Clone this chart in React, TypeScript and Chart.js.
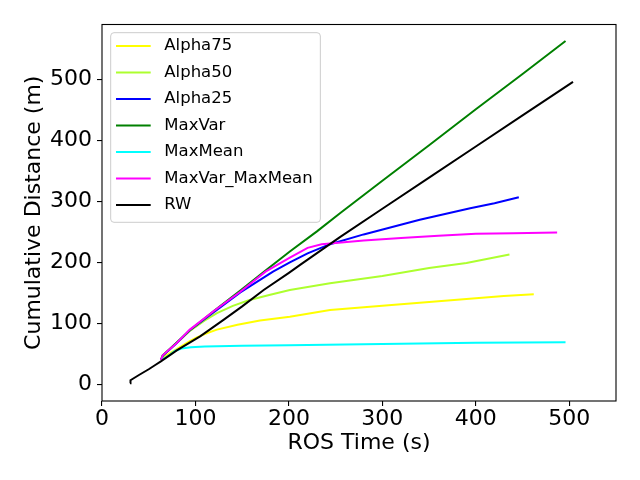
import React, { useEffect, useRef } from "react";
import { Chart, registerables } from "chart.js";

Chart.register(...registerables);

const seriesNames = ["Alpha75", "Alpha50", "Alpha25", "MaxVar", "MaxMean", "MaxVar_MaxMean", "RW"];
const seriesColors = ["#ffff00", "#adff2f", "#0000ff", "#008000", "#00ffff", "#ff00ff", "#000000"];

const xTicks = [0, 100, 200, 300, 400, 500];
const yTicks = [0, 100, 200, 300, 400, 500];

const alpha75T = [63, 66, 80, 94, 101, 112, 123, 145, 169, 201, 244, 300, 340, 390, 430, 462];
const alpha75D = [40, 45, 58, 71, 77, 84, 90, 98, 105, 111, 122, 129, 134, 140, 145, 148];

const alpha50T = [63, 65, 80, 94, 110, 123, 140, 157, 180, 201, 244, 300, 350, 390, 436];
const alpha50D = [40, 47, 68, 88, 105, 117, 129, 138, 147, 155, 166, 178, 191, 199, 213];

const alpha25T = [63, 65, 80, 94, 120, 148, 183, 201, 220, 244, 280, 340, 394, 420, 446];
const alpha25D = [40, 47, 68, 89, 119, 151, 185, 200, 215, 230, 246, 270, 289, 297, 307];

const maxVarT = [63, 65, 80, 94, 120, 148, 175, 201, 230, 255, 300, 350, 400, 450, 496];
const maxVarD = [40, 48, 69, 89, 121, 154, 187, 218, 251, 281, 334, 392, 451, 509, 563];

const maxMeanT = [63, 68, 73, 78, 85, 95, 110, 150, 200, 260, 320, 400, 496];
const maxMeanD = [40, 44, 49, 55, 59, 61, 62.5, 63.5, 64.5, 65.5, 67, 68.5, 69.4];

const maxVarMaxMeanT = [63, 65, 80, 94, 120, 148, 175, 201, 220, 235, 250, 280, 320, 360, 400, 440, 487];
const maxVarMaxMeanD = [40, 48, 68, 90, 121, 152, 185, 208, 224, 230, 232, 236, 240, 244, 247, 248, 249];

const rwT = [30, 30.5, 40, 50, 57, 63, 80, 105, 130, 150, 173, 200, 212, 255, 300, 350, 400, 450, 504];
const rwD = [2, 7, 16, 25, 32, 38, 56, 79, 106, 128, 155, 183, 196, 242, 288, 339, 390, 441, 496];

const seriesT = [alpha75T, alpha50T, alpha25T, maxVarT, maxMeanT, maxVarMaxMeanT, rwT];
const seriesD = [alpha75D, alpha50D, alpha25D, maxVarD, maxMeanD, maxVarMaxMeanD, rwD];

const FONT = '"DejaVu Sans", "Liberation Sans", sans-serif';

const framePlugin = {
  id: "mplFrame",
  afterDatasetsDraw(chart: any) {
    const { ctx, chartArea: a } = chart;
    ctx.save();
    ctx.strokeStyle = "#000";
    ctx.lineWidth = 1.1;
    ctx.strokeRect(a.left, a.top, a.right - a.left, a.bottom - a.top);
    ctx.restore();
  },
};

const legendPlugin = {
  id: "mplLegend",
  afterDraw(chart: any) {
    const { ctx, chartArea: a } = chart;
    const fs = 16.5;
    ctx.save();
    ctx.font = `${fs}px ${FONT}`;
    const left = a.left + 8.7;
    const top = a.top + 8.2;
    const rowH = 26.5;
    const textOff = 53.6;
    const maxW = Math.max(...seriesNames.map((n) => ctx.measureText(n).width));
    const w = textOff + maxW + 7.7;
    const h = 13.3 + rowH * (seriesNames.length - 1) + 17.3;
    ctx.beginPath();
    if (ctx.roundRect) ctx.roundRect(left, top, w, h, 3.3);
    else ctx.rect(left, top, w, h);
    ctx.fillStyle = "rgba(255,255,255,0.8)";
    ctx.fill();
    ctx.strokeStyle = "#cccccc";
    ctx.lineWidth = 1;
    ctx.stroke();
    seriesNames.forEach((name, i) => {
      const y = top + 13.3 + i * rowH;
      ctx.beginPath();
      ctx.moveTo(left + 5.3, y);
      ctx.lineTo(left + 40, y);
      ctx.strokeStyle = seriesColors[i];
      ctx.lineWidth = 2;
      ctx.stroke();
      ctx.fillStyle = "#000";
      ctx.textBaseline = "middle";
      ctx.textAlign = "left";
      ctx.fillText(name, left + textOff, y);
    });
    ctx.restore();
  },
};

export default function App() {
  const ref = useRef<HTMLCanvasElement>(null);
  useEffect(() => {
    const datasets = seriesNames.map((name, i) => ({
      label: name,
      data: seriesT[i].map((t, j) => ({ x: t, y: seriesD[i][j] })),
      borderColor: seriesColors[i],
      backgroundColor: seriesColors[i],
      borderWidth: 2,
      pointRadius: 0,
      pointHoverRadius: 0,
      tension: 0,
      fill: false,
      order: seriesNames.length - 1 - i,
    }));
    const chart = new Chart(ref.current as HTMLCanvasElement, {
      type: "line",
      data: { datasets },
      options: {
        animation: false,
        responsive: false,
        events: [],
        layout: { padding: { left: 0, top: 24.5, right: 24, bottom: 0 } },
        plugins: { legend: { display: false }, tooltip: { enabled: false } },
        scales: {
          x: {
            type: "linear",
            min: 0,
            max: 550,
            afterBuildTicks: (axis: any) => {
              axis.ticks = xTicks.map((v) => ({ value: v }));
            },
            afterFit: (scale: any) => {
              scale.height = 79;
            },
            grid: { drawOnChartArea: false, drawTicks: true, tickLength: 5, color: "#000", lineWidth: 1.1 },
            border: { display: false },
            ticks: {
              color: "#000",
              padding: 2,
              maxRotation: 0,
              autoSkip: false,
              font: { family: FONT, size: 22, lineHeight: 1 },
            },
            title: {
              display: true,
              text: "ROS Time (s)",
              color: "#000",
              font: { family: FONT, size: 22, lineHeight: 1.2 },
              padding: { top: 0, bottom: 24 },
            },
          },
          y: {
            type: "linear",
            min: -27,
            max: 590,
            afterBuildTicks: (axis: any) => {
              axis.ticks = yTicks.map((v) => ({ value: v }));
            },
            afterFit: (scale: any) => {
              scale.width = 102;
            },
            grid: { drawOnChartArea: false, drawTicks: true, tickLength: 5, color: "#000", lineWidth: 1.1 },
            border: { display: false },
            ticks: {
              color: "#000",
              padding: 5,
              autoSkip: false,
              font: { family: FONT, size: 22, lineHeight: 1 },
            },
            title: {
              display: true,
              text: "Cumulative Distance (m)",
              color: "#000",
              font: { family: FONT, size: 22, lineHeight: 1.2 },
              padding: { top: 21, bottom: 0 },
            },
          },
        },
      },
      plugins: [framePlugin, legendPlugin],
    } as any);
    return () => chart.destroy();
  }, []);
  return (
    <div style={{ position: "absolute", left: 0, top: 0, width: 640, height: 480, background: "#fff" }}>
      <canvas ref={ref} width={640} height={480} style={{ display: "block" }} />
    </div>
  );
}
